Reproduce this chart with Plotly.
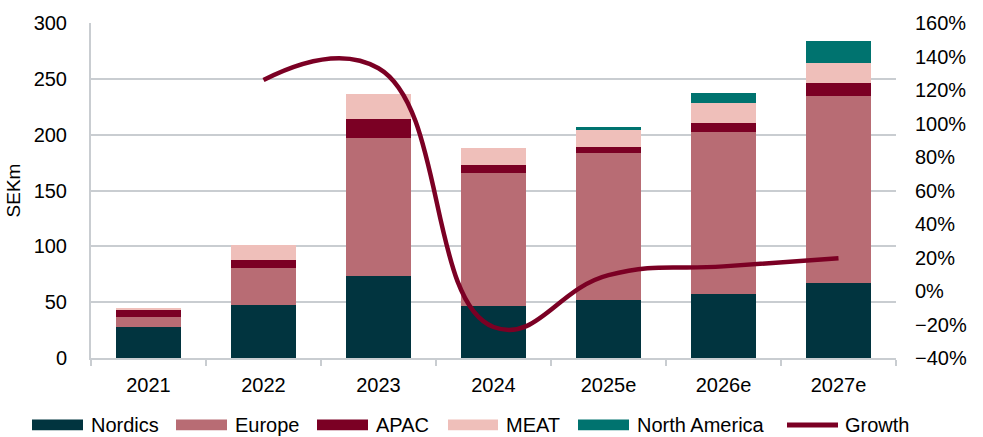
import plotly.graph_objects as go

years = ["2021", "2022", "2023", "2024", "2025e", "2026e", "2027e"]
nordics = [27.5, 47.7, 73.0, 46.5, 51.5, 57.0, 67.0]
europe = [9.0, 32.5, 124.0, 119.0, 132.0, 145.5, 167.5]
apac = [7.0, 7.7, 17.0, 7.5, 5.5, 8.0, 11.5]
meat = [1.0, 13.0, 22.0, 15.5, 16.0, 17.5, 18.5]
north_america = [0.0, 0.0, 0.0, 0.0, 1.5, 9.0, 19.5]
growth = [None, 126.0, 133.0, -21.5, 9.5, 14.7, 19.6]

colors = {
    "Nordics": "#01343F",
    "Europe": "#B86C74",
    "APAC": "#7B0024",
    "MEAT": "#EFBFBA",
    "North America": "#00736F",
    "Growth": "#7B0024",
}
FONT = "Liberation Sans, Arial, sans-serif"
GRID = "#C9CDD1"

fig = go.Figure()
for name, vals in [("Nordics", nordics), ("Europe", europe), ("APAC", apac),
                   ("MEAT", meat), ("North America", north_america)]:
    fig.add_trace(go.Bar(x=years, y=vals, name=name, marker_color=colors[name],
                         marker_line_width=0, showlegend=False))
fig.add_trace(go.Scatter(x=years, y=growth, name="Growth", yaxis="y2", mode="lines",
                         line=dict(color=colors["Growth"], width=4.5, shape="spline", smoothing=1.3),
                         connectgaps=False, showlegend=False))

W, H = 983, 437
L, R, T, B = 91, 896, 20, 358

def px(x):
    return (x - L) / (R - L)

def py(y):
    return (B - y) / (B - T)

# custom legend (wide swatches as in the reference)
legend_items = [
    ("Nordics", 32, 83, 89, "rect"),
    ("Europe", 176, 227, 233, "rect"),
    ("APAC", 317, 368, 374, "rect"),
    ("MEAT", 448, 498, 504, "rect"),
    ("North America", 578, 629, 635, "rect"),
    ("Growth", 787, 838, 843, "line"),
]
shapes = []
annotations = []
ly = 425.5
for name, x0, x1, tx, kind in legend_items:
    if kind == "rect":
        shapes.append(dict(type="rect", xref="paper", yref="paper",
                           x0=px(x0), x1=px(x1), y0=py(ly + 5.5), y1=py(ly - 5.5),
                           fillcolor=colors[name], line=dict(width=0)))
    else:
        shapes.append(dict(type="line", xref="paper", yref="paper",
                           x0=px(x0), x1=px(x1), y0=py(ly), y1=py(ly),
                           line=dict(color=colors[name], width=5)))
    annotations.append(dict(text=name, xref="paper", yref="paper", x=px(tx), y=py(ly),
                            xanchor="left", yanchor="middle", showarrow=False,
                            font=dict(family=FONT, size=20, color="#000000")))

fig.update_layout(
    width=W, height=H,
    margin=dict(l=L, r=W - R, t=T, b=H - B, pad=0),
    barmode="stack", bargap=0.44,
    paper_bgcolor="white", plot_bgcolor="white",
    font=dict(family=FONT, size=20, color="#000000"),
    showlegend=False,
    shapes=shapes, annotations=annotations,
    xaxis=dict(type="category", showline=True, linecolor=GRID, linewidth=2,
               ticks="outside", tickson="boundaries", ticklen=6, tickwidth=2, tickcolor=GRID,
               ticklabelstandoff=8, showgrid=False, zeroline=False,
               tickfont=dict(family=FONT, size=20)),
    yaxis=dict(range=[0, 300], dtick=50, showgrid=True, gridcolor=GRID, gridwidth=2,
               showline=True, linecolor=GRID, linewidth=2, zeroline=False,
               ticks="", ticklabelstandoff=18,
               title=dict(text="SEKm", standoff=8, font=dict(family=FONT, size=19)),
               tickfont=dict(family=FONT, size=20)),
    yaxis2=dict(range=[-40, 160], dtick=20, ticksuffix="%", overlaying="y", side="right",
                showgrid=False, zeroline=False, showline=False, ticks="",
                ticklabelstandoff=18, tickfont=dict(family=FONT, size=20)),
)

fig.write_html("out.html")
